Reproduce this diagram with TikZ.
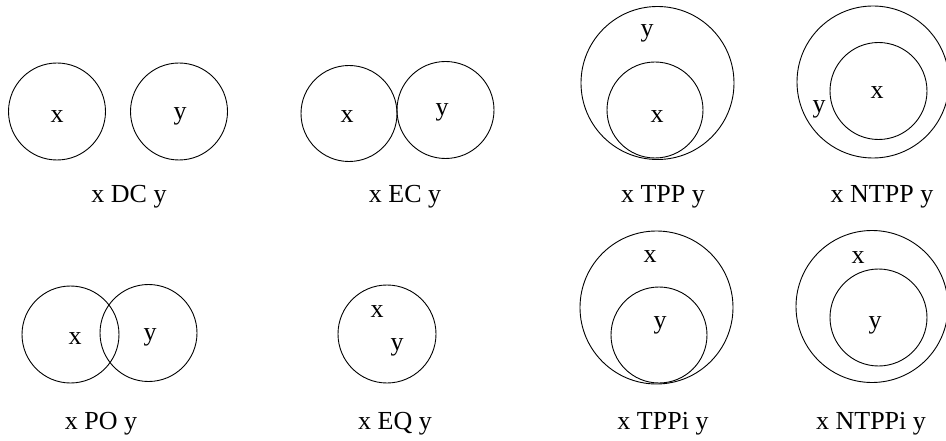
\documentclass[tikz,border=0pt]{standalone}
\usepackage{fontspec}
\setmainfont{Liberation Serif}
\usetikzlibrary{positioning}
\tikzset{
  % Regioni (cerchi)
  region/.style={circle,draw=black,line width=0.9pt,minimum size=97,inner sep=0,outer sep=0},
  region big/.style={region,minimum size=153},
  % Etichette
  lab/.style={inner sep=0,font=\fontsize{26}{29}\selectfont},
  caption/.style={lab}
}
\begin{document}
\begin{tikzpicture}[x=1pt,y=-1pt]
    \useasboundingbox (0,0) rectangle (946,441);
    % DC
    \node[region] (dcx) at (57,111.5) {};
    \node[region] (dcy) at (179,111.5) {};
    \node[lab] (dclx) at (57,117) {x};
    \node[lab] (dcly) at (180,116) {y};
    \node[caption] (dc) at (129,197) {x DC y};
    % EC
    \node[region,minimum size=96] (ecx) at (349,113.5) {};
    \node[region] (ecy) at (445.5,110) {};
    \node[lab] (eclx) at (347,117) {x};
    \node[lab] (ecly) at (442,112) {y};
    \node[caption] (ec) at (405,197) {x EC y};
    % TPP
    \node[region big] (tppy) at (657.5,83) {};
    \node[region,minimum size=96] (tppx) at (655,110) {};
    \node[lab] (tpply) at (647,33) {y};
    \node[lab] (tpplx) at (657,117) {x};
    \node[caption] (tpp) at (663,197) {x TPP y};
    % NTPP
    \node[region,minimum size=152] (ntppy) at (873,82) {};
    \node[region] (ntppx) at (878.5,91) {};
    \node[lab] (ntpplx) at (877,93) {x};
    \node[lab] (ntpply) at (819,109) {y};
    \node[caption] (ntpp) at (882,197) {x NTPP y};
    % PO
    \node[region] (pox) at (70.5,334.5) {};
    \node[region] (poy) at (148.5,333) {};
    \node[lab] (polx) at (75,339) {x};
    \node[lab] (poly) at (150,337) {y};
    \node[caption] (po) at (101,424) {x PO y};
    % EQ
    \node[region,minimum size=98] (eqxy) at (387,334) {};
    \node[lab] (eqlx) at (377,312) {x};
    \node[lab] (eqly) at (397,347) {y};
    \node[caption] (eq) at (395,424) {x EQ y};
    % TPPi
    \node[region big] (tppix) at (656.5,307.5) {};
    \node[region,minimum size=96] (tppiy) at (659,335) {};
    \node[lab] (tppilx) at (650,257) {x};
    \node[lab] (tppily) at (660,325) {y};
    \node[caption] (tppi) at (663,424) {x TPPi y};
    % NTPPi
    \node[region,minimum size=152] (ntppix) at (872,306.5) {};
    \node[region] (ntppiy) at (878.5,317.5) {};
    \node[lab] (ntppilx) at (858,258) {x};
    \node[lab] (ntppily) at (875,325) {y};
    \node[caption] (ntppi) at (871,424) {x NTPPi y};
\end{tikzpicture}
\end{document}
